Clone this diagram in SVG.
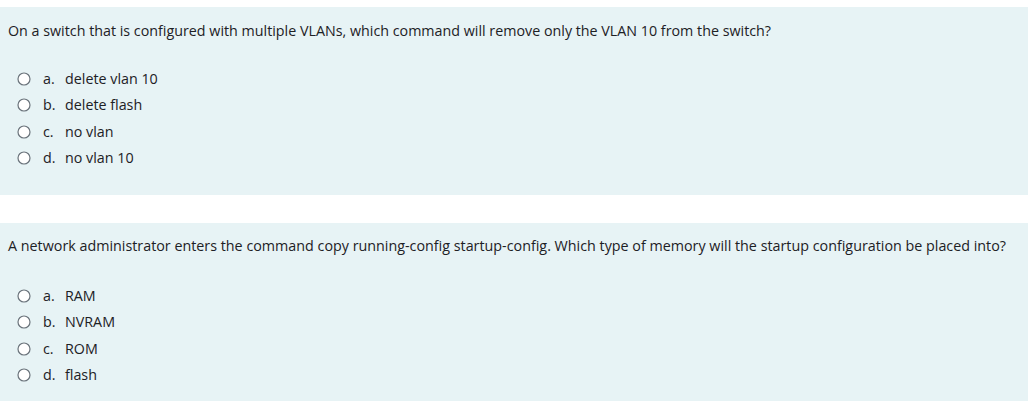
<svg xmlns="http://www.w3.org/2000/svg" width="1028" height="401" viewBox="0 0 1028 401">
<style>
text{font-family:"Open Sans","Liberation Sans",sans-serif;font-size:14.3px;fill:#1d2125}
.r{fill:#fff;stroke:#6a737b;stroke-width:1.2}
</style>
<rect width="1028" height="401" fill="#fff"/>
<rect x="0" y="7" width="1028" height="188" fill="#e7f3f5"/>
<rect x="0" y="223" width="1028" height="178" fill="#e7f3f5"/>
<g id="q1">
<text x="8" y="36" textLength="763" lengthAdjust="spacingAndGlyphs">On a switch that is configured with multiple VLANs, which command will remove only the VLAN 10 from the switch?</text>
<circle class="r" cx="24" cy="79" r="6"/><text x="43" y="84">a.</text><text x="65" y="84">delete vlan 10</text>
<circle class="r" cx="24" cy="105" r="6"/><text x="43" y="110">b.</text><text x="65" y="110">delete flash</text>
<circle class="r" cx="24" cy="132" r="6"/><text x="43" y="137">c.</text><text x="65" y="137">no vlan</text>
<circle class="r" cx="24" cy="158" r="6"/><text x="43" y="163">d.</text><text x="65" y="163">no vlan 10</text>
</g>
<g id="q2">
<text x="8" y="251" textLength="998" lengthAdjust="spacingAndGlyphs">A network administrator enters the command copy running-config startup-config. Which type of memory will the startup configuration be placed into?</text>
<circle class="r" cx="24" cy="296" r="6"/><text x="43" y="301">a.</text><text x="65" y="301">RAM</text>
<circle class="r" cx="24" cy="322" r="6"/><text x="43" y="327">b.</text><text x="65" y="327">NVRAM</text>
<circle class="r" cx="24" cy="349" r="6"/><text x="43" y="354">c.</text><text x="65" y="354">ROM</text>
<circle class="r" cx="24" cy="375" r="6"/><text x="43" y="380">d.</text><text x="65" y="380">flash</text>
</g>
</svg>
